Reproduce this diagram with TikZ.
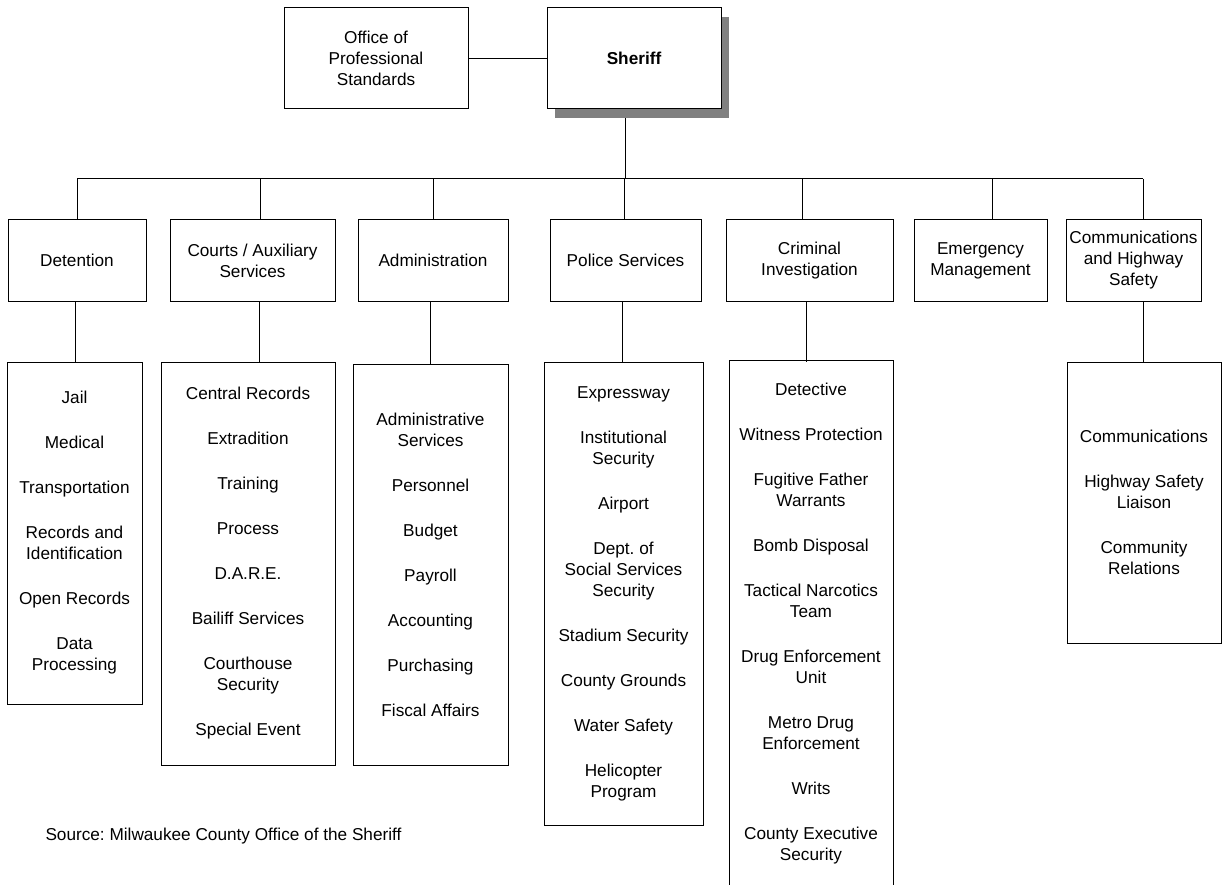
\documentclass[tikz,border=0pt]{standalone}
\usepackage{fontspec}
\setmainfont{Liberation Sans}
\usetikzlibrary{shadows}
\frenchspacing

\def\busy{179}   % y of the horizontal bus
\def\listy{362}  % top of the list boxes
\def\depty{260.5}
\def\nxt{\\[24pt]}

\begin{document}
\begin{tikzpicture}[x=1pt, y=-1pt, line width=1pt,
    nodes = {font=\fontsize{17.2}{21}\selectfont, align=center, inner sep=0pt},
    topbox/.style = {draw, minimum width=#1, minimum height=101pt},
    deptbox/.style = {draw, minimum width=#1, minimum height=81pt},
    listbox/.style = {draw, minimum width=#1}]
  \useasboundingbox (0,0) rectangle (1225,885);

  % Top level
  \node[topbox=184] (office) at (376,58.5) {Office of\\Professional\\Standards};
  \node[topbox=174, fill=white, font=\fontsize{17.2}{21}\selectfont\bfseries,
        general shadow={fill={rgb,255:red,128;green,128;blue,128},
                        shadow xshift=8pt, shadow yshift=-9pt}]
    (sheriff) at (634,58.5) {Sheriff};
  \draw (office.east) -- (sheriff.west);
  \coordinate (sheriff-tap) at (625,\busy);

  % Departments
  \node[deptbox=138] (det) at (77,\depty) {Detention};
  \node[deptbox=165] (crt) at (252.5,\depty) {Courts / Auxiliary\\Services};
  \node[deptbox=150] (adm) at (433,\depty) {Administration};
  \node[deptbox=151] (pol) at (625.5,\depty) {Police Services};
  \node[deptbox=167] (cri) at (809.5,\depty) {Criminal\\Investigation};
  \node[deptbox=133] (emg) at (980.5,\depty) {Emergency\\Management};
  \node[deptbox=135] (com) at (1133.5,\depty) {Communications\\and Highway\\Safety};

  % where the connectors meet the bus (up) and the lists (low)
  \foreach \name/\ux/\lx in {det/77/75, crt/260/259, adm/433/430, pol/624/622,
                             cri/802/806, emg/992/992, com/1143/1143} {
      \coordinate (\name-tap) at (\ux,\busy);
      \coordinate (\name-low) at (\lx,\listy);
      \draw (\name-tap) -- (\name-tap |- \name.north);
    }
  \draw (det-tap) -- (com-tap);
  \draw[shorten <=9pt] (sheriff-tap |- sheriff.south) -- (sheriff-tap);

  % Lists under the departments
  \node[listbox=135, minimum height=342] (det-list) at (74.5,533)
    {Jail\nxt Medical\nxt Transportation\nxt Records and\\Identification\nxt
     Open Records\nxt Data\\Processing};
  \node[listbox=174, minimum height=403] (crt-list) at (248,563.5)
    {Central Records\nxt Extradition\nxt Training\nxt Process\nxt D.A.R.E.\nxt
     Bailiff Services\nxt Courthouse\\Security\nxt Special Event};
  \node[listbox=155, minimum height=401] (adm-list) at (430.5,564.5)
    {Administrative\\Services\nxt Personnel\nxt Budget\nxt Payroll\nxt
     Accounting\nxt Purchasing\nxt Fiscal Affairs};
  \node[listbox=159, minimum height=463] (pol-list) at (623.5,593.5)
    {Expressway\nxt Institutional\\Security\nxt Airport\nxt
     Dept. of\\Social Services\\Security\nxt Stadium Security\nxt
     County Grounds\nxt Water Safety\nxt Helicopter\\Program};
  \node (cri-list) at (811,623.5)
    {Detective\nxt Witness Protection\nxt Fugitive Father\\Warrants\nxt
     Bomb Disposal\nxt Tactical Narcotics\\Team\nxt Drug Enforcement\\Unit\nxt
     Metro Drug\\Enforcement\nxt Writs\nxt County Executive\\Security};
  \draw (729,890) |- (893,360) -- (893,890); % runs off the page
  \node[listbox=154, minimum height=281] (com-list) at (1144,502.5)
    {Communications\nxt Highway Safety\\Liaison\nxt Community\\Relations};

  \foreach \name in {det,crt,adm,pol,com}
    \draw (\name-low |- \name.south) -- (\name-low |- \name-list.north);
  \draw (cri-low |- cri.south) -- (cri-low);

  \node[anchor=west] (source) at (45,836) {Source: Milwaukee County Office of the Sheriff};
\end{tikzpicture}
\end{document}
